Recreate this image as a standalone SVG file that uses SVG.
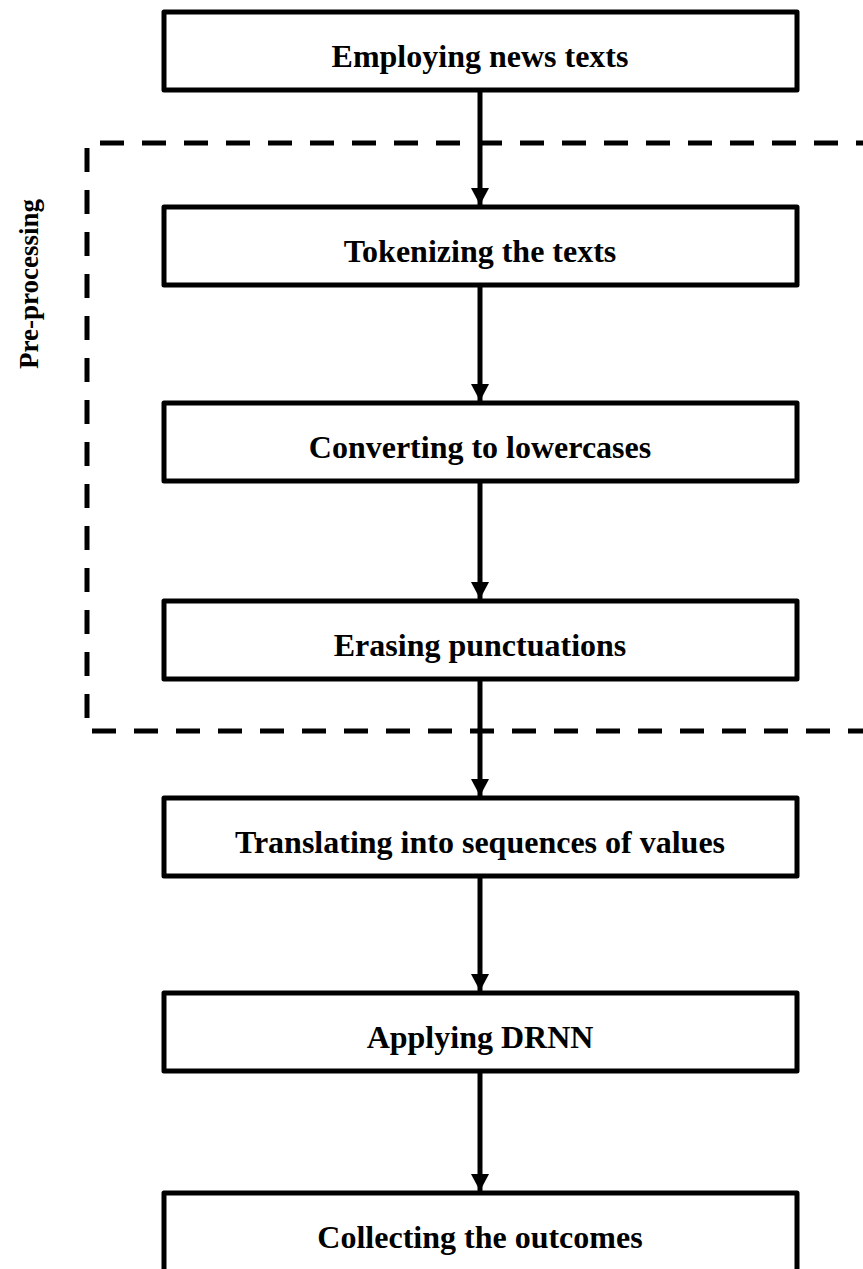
<svg xmlns="http://www.w3.org/2000/svg" width="863" height="1269" viewBox="0 0 863 1269">
<style>
.box{fill:#fff;stroke:#000;stroke-width:5;stroke-linejoin:round}
.lbl{font-family:"Liberation Serif","Times New Roman",serif;font-weight:bold;font-size:32px;text-anchor:middle;fill:#000}
.side{font-family:"Liberation Serif","Times New Roman",serif;font-weight:bold;font-size:27px;text-anchor:middle;fill:#000}
.conn{stroke:#000;stroke-width:5;fill:none;marker-end:url(#ah)}
.dash{fill:none;stroke:#000;stroke-width:5;stroke-dasharray:24 18}
</style>
<defs>
<marker id="ah" markerUnits="userSpaceOnUse" markerWidth="17" markerHeight="18" refX="17" refY="9" orient="auto" viewBox="0 0 17 18">
<path d="M0,0 L17,9 L0,18 Z" fill="#000"/>
</marker>
</defs>
<g id="preprocessing-group">
<path class="dash" d="M880,143 L87,143 L87,731 L880,731"/>
<text class="side" transform="translate(38,284) rotate(-90)">Pre-processing</text>
</g>
<g id="connectors">
<line class="conn" x1="480" y1="90" x2="480" y2="205"/>
<line class="conn" x1="480" y1="285" x2="480" y2="401"/>
<line class="conn" x1="480" y1="481" x2="480" y2="599"/>
<line class="conn" x1="480" y1="679" x2="480" y2="796"/>
<line class="conn" x1="480" y1="876" x2="480" y2="991"/>
<line class="conn" x1="480" y1="1071" x2="480" y2="1191"/>
</g>
<g id="n1"><rect class="box" x="164" y="12" width="633" height="78"/><text class="lbl" x="480" y="67">Employing news texts</text></g>
<g id="n2"><rect class="box" x="164" y="207" width="633" height="78"/><text class="lbl" x="480" y="262">Tokenizing the texts</text></g>
<g id="n3"><rect class="box" x="164" y="403" width="633" height="78"/><text class="lbl" x="480" y="458">Converting to lowercases</text></g>
<g id="n4"><rect class="box" x="164" y="601" width="633" height="78"/><text class="lbl" x="480" y="656">Erasing punctuations</text></g>
<g id="n5"><rect class="box" x="164" y="798" width="633" height="78"/><text class="lbl" x="480" y="853">Translating into sequences of values</text></g>
<g id="n6"><rect class="box" x="164" y="993" width="633" height="78"/><text class="lbl" x="480" y="1048">Applying DRNN</text></g>
<g id="n7"><rect class="box" x="164" y="1193" width="633" height="80"/><text class="lbl" x="480" y="1248">Collecting the outcomes</text></g>
</svg>
